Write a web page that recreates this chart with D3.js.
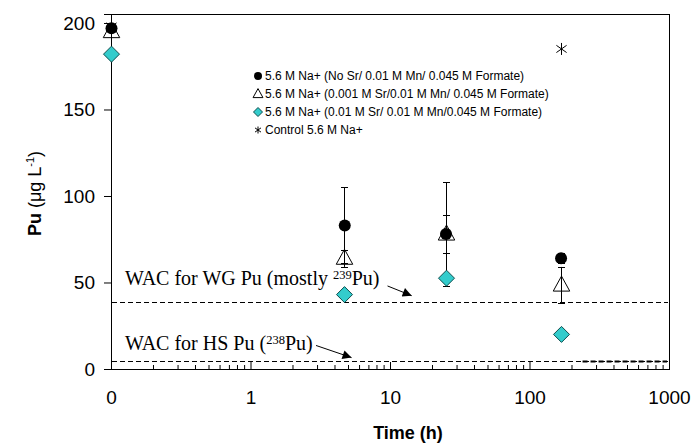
<!DOCTYPE html>
<html>
<head>
<meta charset="utf-8">
<script src="https://cdn.jsdelivr.net/npm/d3@7"></script>
<style>
  body { margin: 0; background: #fff; }
  svg { display: block; }
</style>
</head>
<body>
<svg id="chart" width="693" height="446"></svg>
<script>
// sampling times (h); 0 is drawn at the left end of the log axis
const times = [0, 4.7, 25, 167];
const noSr = [197, 83, 78, 64];
const noSrErr = [0, 22, 30, 3];
const sr001 = [195, 64, 78, 48.5];
const sr001Err = [0, 5, 11, 10.5];
const sr01 = [182, 43, 52.5, 20];
const controlTimes = [0, 167];
const control = [198, 185];

const wacWG = 38.5;
const wacHS = 4.6;
const hsBoldRange = [240, 1000];

const xTickValues = [0.1, 1, 10, 100, 1000];
const xTickLabels = ["0", "1", "10", "100", "1000"];
const yTickValues = [0, 50, 100, 150, 200];

const legendLabels = [
  "5.6 M Na+ (No Sr/ 0.01 M Mn/ 0.045 M Formate)",
  "5.6 M Na+ (0.001 M Sr/0.01 M Mn/ 0.045 M Formate)",
  "5.6 M Na+ (0.01 M Sr/ 0.01 M Mn/0.045 M Formate)",
  "Control 5.6 M Na+"
];

const margin = {top: 14, right: 24, bottom: 77, left: 111};
const W = 693, H = 446;
const svg = d3.select("#chart");

const x = d3.scaleLog().domain([0.1, 1000]).range([margin.left, W - margin.right]);
const y = d3.scaleLinear().domain([0, 205.2]).range([H - margin.bottom, margin.top]);
const xt = t => x(t === 0 ? 0.1 : t);

const cyan = "#33cccc";
const sans = "'Liberation Sans', Arial, sans-serif";
const serif = "'Liberation Serif', 'Times New Roman', serif";

// frame
svg.append("rect")
  .attr("x", x(0.1) + 0.5).attr("y", y(205.2) + 0.5)
  .attr("width", x(1000) - x(0.1)).attr("height", y(0) - y(205.2))
  .attr("fill", "none").attr("stroke", "#000");

// x axis: minor + major ticks pointing in
const minor = [];
for (let e = -1; e < 3; e++) for (let k = 2; k < 10; k++) minor.push(k * Math.pow(10, e));

const gxMinor = svg.append("g")
  .attr("transform", `translate(0,${y(0)})`)
  .call(d3.axisBottom(x).tickValues(minor).tickSize(-4).tickFormat(""));
gxMinor.select(".domain").remove();

const gx = svg.append("g")
  .attr("transform", `translate(0,${y(0)})`)
  .call(d3.axisBottom(x).tickValues(xTickValues).tickSize(-7).tickPadding(22)
    .tickFormat((d, i) => xTickLabels[i]));
gx.selectAll("text").attr("font-family", sans).attr("font-size", 19).attr("fill", "#000");

// y axis
const gy = svg.append("g")
  .attr("transform", `translate(${x(0.1)},0)`)
  .call(d3.axisLeft(y).tickValues(yTickValues).tickSize(7).tickPadding(9));
gy.selectAll("text").attr("font-family", sans).attr("font-size", 19).attr("fill", "#000");

// axis titles
svg.append("text")
  .attr("x", 408).attr("y", 439)
  .attr("text-anchor", "middle")
  .attr("font-family", sans).attr("font-size", 18).attr("font-weight", "bold")
  .text("Time (h)");

const yTitle = svg.append("text")
  .attr("transform", `translate(41,${(y(0) + y(205.2)) / 2 + 2}) rotate(-90)`)
  .attr("text-anchor", "middle")
  .attr("font-family", sans).attr("font-size", 18);
yTitle.append("tspan").attr("font-weight", "bold").text("Pu");
yTitle.append("tspan").text(" (\u03bcg L");
yTitle.append("tspan").attr("font-size", 11).attr("dy", -7).text("-1");
yTitle.append("tspan").attr("dy", 7).text(")");

// WAC lines
const dashes = svg.append("g").attr("stroke", "#000").attr("fill", "none");
[wacWG, wacHS].forEach(v => {
  dashes.append("line")
    .attr("x1", x(0.1) + 1).attr("x2", x(1000) - 1)
    .attr("y1", Math.round(y(v)) + 0.5).attr("y2", Math.round(y(v)) + 0.5)
    .attr("stroke-dasharray", "5,3");
});
dashes.append("line")
  .attr("x1", x(hsBoldRange[0])).attr("x2", x(hsBoldRange[1]) - 2)
  .attr("y1", Math.round(y(wacHS)) + 0.5).attr("y2", Math.round(y(wacHS)) + 0.5)
  .attr("stroke-width", 2).attr("stroke-dasharray", "5,3");

// annotations (anchored in data units)
const notes = [
  {t: 0.126, v: 48.6, iso: "239", pre: "WAC for WG Pu (mostly ", arrow: [[9.6, 48.0], [14.3, 42.4]]},
  {t: 0.126, v: 11.0, iso: "238", pre: "WAC for HS Pu (", arrow: [[2.95, 13.6], [5.3, 6.6]]}
];
svg.append("defs").append("marker")
  .attr("id", "head").attr("viewBox", "0 0 10 10")
  .attr("refX", 10).attr("refY", 5)
  .attr("markerWidth", 10).attr("markerHeight", 9)
  .attr("markerUnits", "userSpaceOnUse")
  .attr("orient", "auto")
  .append("path").attr("d", "M0,0L10,5L0,10Z").attr("fill", "#000");

notes.forEach(n => {
  const t = svg.append("text")
    .attr("x", x(n.t)).attr("y", y(n.v))
    .attr("font-family", serif).attr("font-size", 20).attr("fill", "#000");
  t.append("tspan").text(n.pre);
  t.append("tspan").attr("font-size", 12.5).attr("dy", -6).text(n.iso);
  t.append("tspan").attr("dy", 6).text("Pu)");
  svg.append("line")
    .attr("x1", x(n.arrow[0][0])).attr("y1", y(n.arrow[0][1]))
    .attr("x2", x(n.arrow[1][0])).attr("y2", y(n.arrow[1][1]))
    .attr("stroke", "#000").attr("marker-end", "url(#head)");
});

// error bars
function errorBars(vals, errs) {
  const g = svg.append("g").attr("stroke", "#000");
  times.forEach((t, i) => {
    if (!errs[i]) return;
    const cx = Math.round(xt(t)) + 0.5;
    const lo = y(vals[i] - errs[i]), hi = y(vals[i] + errs[i]);
    g.append("line").attr("x1", cx).attr("x2", cx).attr("y1", lo).attr("y2", hi);
    [lo, hi].forEach(yy => g.append("line")
      .attr("x1", cx - 3.5).attr("x2", cx + 3.5)
      .attr("y1", Math.round(yy) + 0.5).attr("y2", Math.round(yy) + 0.5));
  });
}
errorBars(noSr, noSrErr);
errorBars(sr001, sr001Err);

// symbol shapes
const triPath = s => `M0,${-1.2 * s}L${s * 1.1},${0.8 * s}L${-s * 1.1},${0.8 * s}Z`;
const diaPath = s => `M0,${-s}L${s},0L0,${s}L${-s},0Z`;
function star(g, s) {
  g.append("path")
    .attr("d", `M0,${-s}V${s}M${-s * 0.85},${-s * 0.6}L${s * 0.85},${s * 0.6}M${-s * 0.85},${s * 0.6}L${s * 0.85},${-s * 0.6}`)
    .attr("stroke", "#000").attr("fill", "none");
}

// triangles
svg.append("g").selectAll("path").data(sr001).join("path")
  .attr("transform", (d, i) => `translate(${Math.round(xt(times[i])) + 0.5},${y(d)})`)
  .attr("d", triPath(7.5))
  .attr("fill", "none").attr("stroke", "#000");

// circles
svg.append("g").selectAll("circle").data(noSr).join("circle")
  .attr("cx", (d, i) => xt(times[i]) + 0.5).attr("cy", d => y(d))
  .attr("r", 6).attr("fill", "#000");

// diamonds
svg.append("g").selectAll("path").data(sr01).join("path")
  .attr("transform", (d, i) => `translate(${Math.round(xt(times[i])) + 0.5},${y(d)})`)
  .attr("d", diaPath(8))
  .attr("fill", cyan).attr("stroke", "#0d4d4d");

// control
controlTimes.forEach((t, i) => {
  star(svg.append("g").attr("transform", `translate(${Math.round(xt(t)) + 0.5},${y(control[i])})`), 6);
});

// legend
const legend = svg.append("g").attr("transform", "translate(258,76)");
legendLabels.forEach((lab, i) => {
  const row = legend.append("g").attr("transform", `translate(0,${i * 18})`);
  if (i === 0) row.append("circle").attr("r", 4).attr("fill", "#000");
  if (i === 1) row.append("path").attr("d", triPath(4.5)).attr("fill", "none").attr("stroke", "#000");
  if (i === 2) row.append("path").attr("d", diaPath(4.5)).attr("fill", cyan).attr("stroke", "#0d4d4d");
  if (i === 3) star(row, 3.5);
  row.append("text")
    .attr("x", 7).attr("y", 4)
    .attr("font-family", sans).attr("font-size", 12).attr("fill", "#000")
    .text(lab);
});
</script>
</body>
</html>
